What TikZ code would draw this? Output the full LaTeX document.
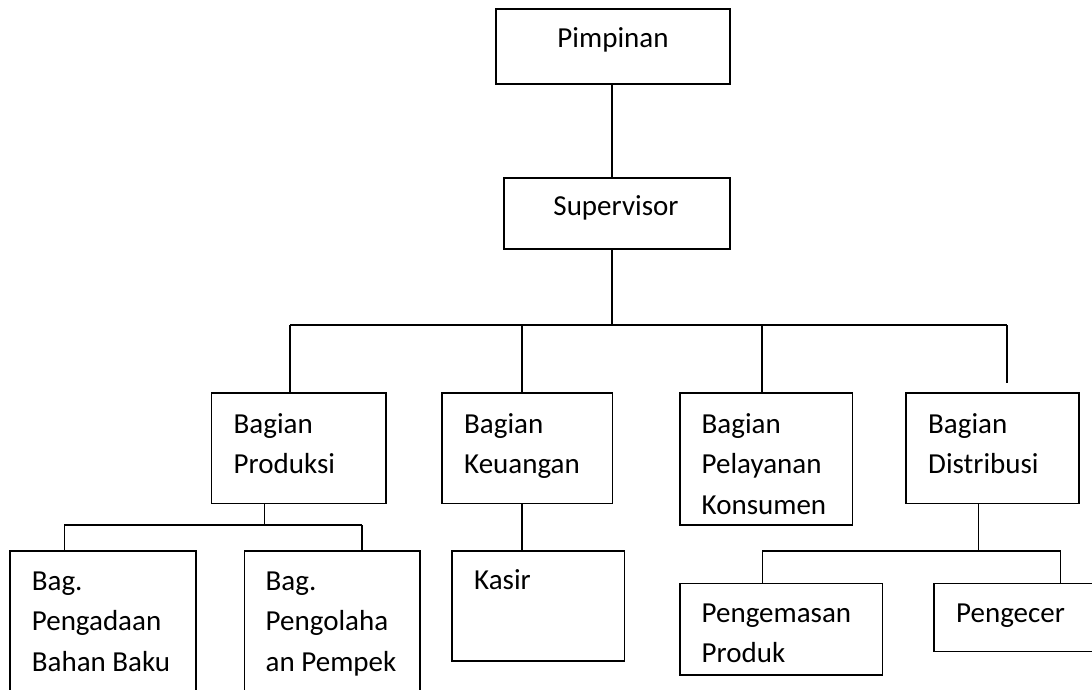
\documentclass[tikz,border=0pt]{standalone}
\usepackage{fontspec}
\setmainfont{Carlito}
\newcommand{\mlines}[1]{\parbox[t]{8cm}{\fontsize{29}{40.5}\selectfont\raggedright #1}}
\begin{document}
\begin{tikzpicture}[x=1pt,y=-1pt,
  box/.style={draw=black,line width=1.5pt,anchor=north west,inner sep=0pt,outer sep=0pt},
  txt/.style={anchor=base west,inner sep=0pt,font=\fontsize{29}{40.5}\selectfont},
  ctxt/.style={anchor=base,inner sep=0pt,font=\fontsize{29}{40.5}\selectfont},
  link/.style={draw=black,line width=1.5pt}]
\useasboundingbox (0,0) rectangle (1092,690);
\fill[white] (0,0) rectangle (1092,690);
\clip (0,0) rectangle (1092,690);

% level 0 / 1
\node[box,minimum width=234pt,minimum height=75pt] (pim) at (496,9) {};
\node[ctxt] (tpim) at (613,48) {Pimpinan};
\node[box,minimum width=226pt,minimum height=71pt] (sup) at (504,178) {};
\node[ctxt] (tsup) at (616,215) {Supervisor};

% level 2
\node[box,minimum width=174.3pt,minimum height=110.3pt] (prod) at (211.7,393) {};
\node[txt] (tprod) at (233.5,433) {\mlines{Bagian\\Produksi}};
\node[box,minimum width=170.3pt,minimum height=110.3pt] (keu) at (442,393) {};
\node[txt] (tkeu) at (464,433) {\mlines{Bagian\\Keuangan}};
\node[box,minimum width=172.7pt,minimum height=132pt] (pel) at (680,393) {};
\node[txt] (tpel) at (701.5,433) {\mlines{Bagian\\Pelayanan\\Konsumen}};
\node[box,minimum width=173pt,minimum height=110.3pt] (dis) at (906,393) {};
\node[txt] (tdis) at (928,433) {\mlines{Bagian\\Distribusi}};

% level 3
\node[box,minimum width=186pt,minimum height=160pt] (pga) at (10,551) {};
\node[txt] (tpga) at (31.7,590) {\mlines{Bag.\\Pengadaan\\Bahan Baku}};
\node[box,minimum width=175.7pt,minimum height=160pt] (pgo) at (244.3,551) {};
\node[txt] (tpgo) at (265.5,590) {\mlines{Bag.\\Pengolaha\\an Pempek}};
\node[box,minimum width=172.3pt,minimum height=110pt] (kas) at (452,551) {};
\node[txt] (tkas) at (474,589) {Kasir};
\node[box,minimum width=202.7pt,minimum height=91.7pt] (pgm) at (680,583.3) {};
\node[txt] (tpgm) at (701.5,622) {\mlines{Pengemasan\\Produk}};
\node[box,minimum width=220pt,minimum height=68pt] (pgc) at (934,583.3) {};
\node[txt] (tpgc) at (956,622) {Pengecer};

% connector coordinates
\coordinate (b0) at (612,325);
\coordinate (bL) at (290,325);
\coordinate (bK) at (522,325);
\coordinate (bP) at (762,325);
\coordinate (bR) at (1007,325);
\coordinate (bRend) at (1007,383);
\coordinate (pb) at (264.3,525);
\coordinate (pbL) at (64.3,525);
\coordinate (pbR) at (362,525);
\coordinate (db) at (978.3,551);
\coordinate (dbL) at (762.3,551);
\coordinate (dbR) at (1060.7,551);

% top connectors
\draw[link] (pim.south -| b0) -- (sup.north -| b0);
\draw[link] (sup.south -| b0) -- (b0);
\draw[link] (bL) -- (bR);
\draw[link] (bL) -- (prod.north -| bL);
\draw[link] (bK) -- (keu.north -| bK);
\draw[link] (bP) -- (pel.north -| bP);
\draw[link] (bR) -- (bRend);

% produksi
\draw[link] (prod.south -| pb) -- (pb);
\draw[link] (pbL) -- (pbR);
\draw[link] (pbL) -- (pga.north -| pbL);
\draw[link] (pbR) -- (pgo.north -| pbR);

% keuangan
\draw[link] (keu.south -| bK) -- (kas.north -| bK);

% distribusi
\draw[link] (dis.south -| db) -- (db);
\draw[link] (dbL) -- (dbR);
\draw[link] (dbL) -- (pgm.north -| dbL);
\draw[link] (dbR) -- (pgc.north -| dbR);
\end{tikzpicture}
\end{document}
